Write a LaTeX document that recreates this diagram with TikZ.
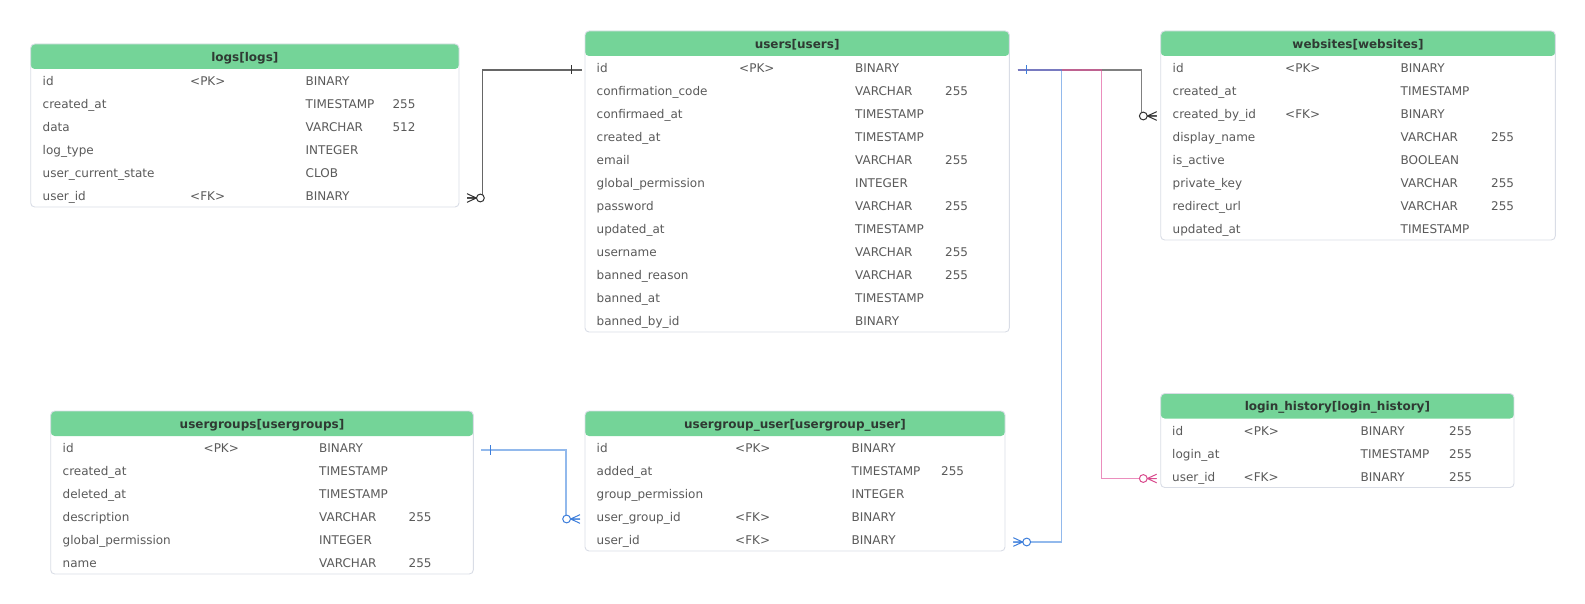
\documentclass[tikz,border=0pt]{standalone}
\usepackage{fontspec}
\setmainfont{DejaVu Sans}
\usetikzlibrary{calc}
\definecolor{hdr}{HTML}{74D498}
\definecolor{tblborder}{HTML}{D9DDE6}
\definecolor{ttltext}{HTML}{2F3A33}
\definecolor{celltext}{HTML}{5A5A5A}
\definecolor{gone}{HTML}{666666}
\definecolor{gtwo}{HTML}{808080}
\definecolor{pinkl}{HTML}{E0529A}
\definecolor{bluel}{HTML}{4A8AE0}
\definecolor{mkdark}{HTML}{333333}
\definecolor{mkblue}{HTML}{3D7EDB}
\definecolor{mkpink}{HTML}{D94C8E}

\tikzset{
  tbl/.style={draw=tblborder, line width=0.9pt, rounded corners=4pt, fill=white,
    anchor=north west, inner sep=0pt, outer sep=0pt,
    path picture={\fill[hdr] (path picture bounding box.north west) rectangle ([yshift=-25pt]path picture bounding box.north east);}},
  ttl/.style={anchor=base, font=\bfseries\fontsize{12}{14}\selectfont, text=ttltext, inner sep=0pt},
  cell/.style={anchor=base west, font=\fontsize{12}{14}\selectfont, text=celltext, inner sep=0pt},
  lineone/.style={draw=gone, line width=1.3pt},
  linetwo/.style={draw=gtwo, line width=1.3pt},
  linepink/.style={draw=pinkl, line width=1.4pt, draw opacity=0.65},
  lineblue/.style={draw=bluel, line width=1.4pt, draw opacity=0.6},
  onetick/.style={line width=1pt},
  zmany/.pic={
    \draw[line width=1pt] (0,-4.3) -- (9.4,0) -- (0,4.3) (0,0) -- (9.4,0);
    \draw[line width=1pt, fill=white] (13.4,0) circle [radius=3.9pt];
  },
}

% #1 id, #2 row index, #3 name, #4 key, #5 type, #6 length
\newcommand{\errow}[6]{%
  \pgfmathsetmacro\rb{\tT+25+23*(#2-1)+16.5}%
  \pgfmathsetmacro\rl{\rb-2.5}%
  \node[cell] (#1-n#2) at (\cA,\rb) {#3};%
  \if\relax\detokenize{#4}\relax\else\node[cell] (#1-k#2) at (\cB,\rb) {#4};\fi
  \node[cell] (#1-t#2) at (\cC,\rb) {#5};%
  \if\relax\detokenize{#6}\relax\else\node[cell] (#1-l#2) at (\cD,\rb) {#6};\fi
  \coordinate (#1-r#2) at (\cA,\rl);%
}

\begin{document}
\begin{tikzpicture}[x=1pt,y=-1pt]
\useasboundingbox (0,0) rectangle (1585,604);

% ---------------- logs
\node[tbl, minimum width=428.3pt, minimum height=163pt] (logs) at (30.7,44) {};
\node[ttl] (logs-title) at (244.85,61.3) {logs[logs]};
\def\tT{44}\def\cA{42.5}\def\cB{190}\def\cC{305.5}\def\cD{392.3}
\errow{logs}{1}{id}{<PK>}{BINARY}{}
\errow{logs}{2}{created\_at}{}{TIMESTAMP}{255}
\errow{logs}{3}{data}{}{VARCHAR}{512}
\errow{logs}{4}{log\_type}{}{INTEGER}{}
\errow{logs}{5}{user\_current\_state}{}{CLOB}{}
\errow{logs}{6}{user\_id}{<FK>}{BINARY}{}

% ---------------- users
\node[tbl, minimum width=424.3pt, minimum height=301pt] (users) at (585,31) {};
\node[ttl] (users-title) at (797.15,48.3) {users[users]};
\def\tT{31}\def\cA{596.5}\def\cB{739}\def\cC{855}\def\cD{945}
\errow{users}{1}{id}{<PK>}{BINARY}{}
\errow{users}{2}{confirmation\_code}{}{VARCHAR}{255}
\errow{users}{3}{confirmaed\_at}{}{TIMESTAMP}{}
\errow{users}{4}{created\_at}{}{TIMESTAMP}{}
\errow{users}{5}{email}{}{VARCHAR}{255}
\errow{users}{6}{global\_permission}{}{INTEGER}{}
\errow{users}{7}{password}{}{VARCHAR}{255}
\errow{users}{8}{updated\_at}{}{TIMESTAMP}{}
\errow{users}{9}{username}{}{VARCHAR}{255}
\errow{users}{10}{banned\_reason}{}{VARCHAR}{255}
\errow{users}{11}{banned\_at}{}{TIMESTAMP}{}
\errow{users}{12}{banned\_by\_id}{}{BINARY}{}

% ---------------- websites
\node[tbl, minimum width=394.6pt, minimum height=209pt] (websites) at (1160.7,31) {};
\node[ttl] (websites-title) at (1358,48.3) {websites[websites]};
\def\tT{31}\def\cA{1172.5}\def\cB{1285}\def\cC{1400.5}\def\cD{1491}
\errow{websites}{1}{id}{<PK>}{BINARY}{}
\errow{websites}{2}{created\_at}{}{TIMESTAMP}{}
\errow{websites}{3}{created\_by\_id}{<FK>}{BINARY}{}
\errow{websites}{4}{display\_name}{}{VARCHAR}{255}
\errow{websites}{5}{is\_active}{}{BOOLEAN}{}
\errow{websites}{6}{private\_key}{}{VARCHAR}{255}
\errow{websites}{7}{redirect\_url}{}{VARCHAR}{255}
\errow{websites}{8}{updated\_at}{}{TIMESTAMP}{}

% ---------------- usergroups
\node[tbl, minimum width=422.6pt, minimum height=163pt] (usergroups) at (50.7,411) {};
\node[ttl] (usergroups-title) at (262,428.3) {usergroups[usergroups]};
\def\tT{411}\def\cA{62.5}\def\cB{203.5}\def\cC{319}\def\cD{408.5}
\errow{usergroups}{1}{id}{<PK>}{BINARY}{}
\errow{usergroups}{2}{created\_at}{}{TIMESTAMP}{}
\errow{usergroups}{3}{deleted\_at}{}{TIMESTAMP}{}
\errow{usergroups}{4}{description}{}{VARCHAR}{255}
\errow{usergroups}{5}{global\_permission}{}{INTEGER}{}
\errow{usergroups}{6}{name}{}{VARCHAR}{255}

% ---------------- usergroup_user
\node[tbl, minimum width=420pt, minimum height=140pt] (ugu) at (585,411) {};
\node[ttl] (ugu-title) at (795,428.3) {usergroup\_user[usergroup\_user]};
\def\tT{411}\def\cA{596.5}\def\cB{735}\def\cC{851.5}\def\cD{941}
\errow{ugu}{1}{id}{<PK>}{BINARY}{}
\errow{ugu}{2}{added\_at}{}{TIMESTAMP}{255}
\errow{ugu}{3}{group\_permission}{}{INTEGER}{}
\errow{ugu}{4}{user\_group\_id}{<FK>}{BINARY}{}
\errow{ugu}{5}{user\_id}{<FK>}{BINARY}{}

% ---------------- login_history
\node[tbl, minimum width=353.3pt, minimum height=94pt] (login) at (1160.7,393.5) {};
\node[ttl] (login-title) at (1337.35,410.8) {login\_history[login\_history]};
\def\tT{393.5}\def\cA{1172}\def\cB{1243.5}\def\cC{1360.5}\def\cD{1449}
\errow{login}{1}{id}{<PK>}{BINARY}{255}
\errow{login}{2}{login\_at}{}{TIMESTAMP}{255}
\errow{login}{3}{user\_id}{<FK>}{BINARY}{255}

% ---------------- connectors
% logs.user_id  >o----|  users.id
\coordinate (c1s) at ($(users.west|-users-r1)+(-3.3,0)$);
\coordinate (c1e) at ($(logs.east|-logs-r6)+(8,0)$);
\coordinate (c1k) at ($(logs.east|-users-r1)+(23.3,0)$);
\draw[lineone] (c1s) -- (c1k) |- (c1e);
\pic[color=mkdark] at (c1e) {zmany};
\draw[onetick, mkdark] ($(c1s)+(-10,-4.5)$) -- ($(c1s)+(-10,4.5)$);

% users.id  |---- websites / login_history / usergroup_user
\coordinate (rs) at ($(users.east|-users-r1)+(8.3,0)$);
\coordinate (c2e) at ($(websites.west|-websites-r3)+(-4,0)$);
\coordinate (c3e) at ($(login.west|-login-r3)+(-4,0)$);
\coordinate (c4e) at ($(ugu.east|-ugu-r5)+(8.3,0)$);
\draw[linetwo] (rs) -| ($(c2e)+(-15,0)$) -- (c2e);
\draw[linepink] (rs) -| ($(c3e)+(-55,0)$) -- (c3e);
\draw[lineblue] (rs) -| ($(c4e)+(48.4,0)$) -- (c4e);
\pic[color=mkdark, xscale=-1] at (c2e) {zmany};
\pic[color=mkpink, xscale=-1] at (c3e) {zmany};
\pic[color=mkblue] at (c4e) {zmany};
\draw[onetick, mkblue] ($(rs)+(8.7,-4.5)$) -- ($(rs)+(8.7,4.5)$);

% usergroups.id |---- o< usergroup_user.user_group_id
\coordinate (c5s) at ($(usergroups.east|-usergroups-r1)+(7.7,0)$);
\coordinate (c5e) at ($(ugu.west|-ugu-r4)+(-5,0)$);
\draw[lineblue] (c5s) -| ($(c5e)+(-14,0)$) -- (c5e);
\pic[color=mkblue, xscale=-1] at (c5e) {zmany};
\draw[onetick, mkblue] ($(c5s)+(9.7,-5)$) -- ($(c5s)+(9.7,5)$);
\end{tikzpicture}
\end{document}
